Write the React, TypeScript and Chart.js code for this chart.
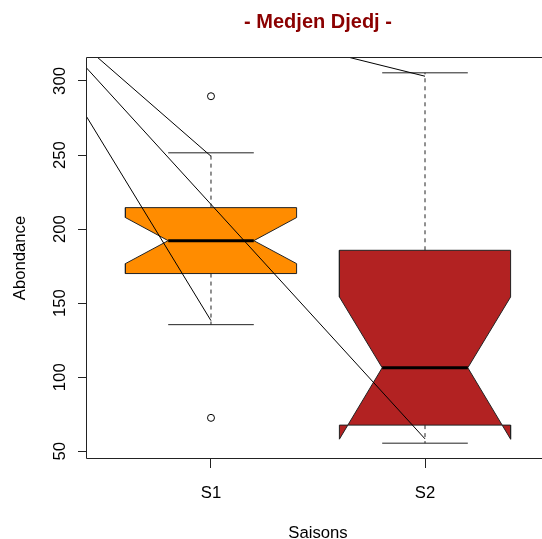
import React, { useEffect, useRef } from 'react';
import { Chart, registerables } from 'chart.js';

Chart.register(...registerables);

// ---- data ----
const categories = ['S1', 'S2'];
const whiskerLow = [135.5, 55.5];
const q1 = [170.0, 67.7];
const medians = [192.2, 106.4];
const q3 = [214.5, 185.7];
const whiskerHigh = [251.5, 305.5];
const notchLow = [176.7, 58.2];
const notchHigh = [207.8, 154.2];
const outliers: number[][] = [[289.7, 72.6], []];
const boxColors = ['#FF8C00', '#B22222'];

const xTicks = [1, 2];
const yTicks = [50, 100, 150, 200, 250, 300];

// straight lines radiating from one point
const rayOriginX = 0;
const rayOriginY = 375;
const rayEndX = [1, 1, 2, 2];
const rayEndY = [249.2, 138.2, 303.2, 58.4];

const titleText = '- Medjen Djedj -';
const xTitle = 'Saisons';
const yTitle = 'Abondance';

// ---- layout / style ----
const X_MIN = 0.4206;
const X_MAX = 2.5467;
const Y_MIN = 45.5;
const Y_MAX = 315.5;
const BOX_HALF = 0.4;
const NOTCH_HALF = 0.2;
const CAP_HALF = 0.2;
const FONT = '"Liberation Sans", Arial, Helvetica, sans-serif';

function buildDatasets() {
  const ds: any[] = [];
  categories.forEach((_, i) => {
    const x = i + 1;
    // notched box polygon
    ds.push({
      data: [
        { x: x - BOX_HALF, y: q1[i] },
        { x: x + BOX_HALF, y: q1[i] },
        { x: x + BOX_HALF, y: notchLow[i] },
        { x: x + NOTCH_HALF, y: medians[i] },
        { x: x + BOX_HALF, y: notchHigh[i] },
        { x: x + BOX_HALF, y: q3[i] },
        { x: x - BOX_HALF, y: q3[i] },
        { x: x - BOX_HALF, y: notchHigh[i] },
        { x: x - NOTCH_HALF, y: medians[i] },
        { x: x - BOX_HALF, y: notchLow[i] },
        { x: x - BOX_HALF, y: q1[i] },
      ],
      borderColor: '#222',
      borderWidth: 1,
      backgroundColor: boxColors[i],
      fill: 'shape',
      pointRadius: 0,
      order: 6,
    });
    // median
    ds.push({
      data: [
        { x: x - NOTCH_HALF, y: medians[i] },
        { x: x + NOTCH_HALF, y: medians[i] },
      ],
      borderColor: '#000',
      borderWidth: 3,
      borderCapStyle: 'butt',
      pointRadius: 0,
      fill: false,
      order: 5,
    });
    // whiskers
    ds.push({
      data: [
        { x, y: q3[i] },
        { x, y: whiskerHigh[i] },
      ],
      borderColor: '#222',
      borderWidth: 1,
      borderDash: [4, 4],
      pointRadius: 0,
      fill: false,
      order: 4,
    });
    ds.push({
      data: [
        { x, y: q1[i] },
        { x, y: whiskerLow[i] },
      ],
      borderColor: '#222',
      borderWidth: 1,
      borderDash: [4, 4],
      pointRadius: 0,
      fill: false,
      order: 4,
    });
    // caps
    ds.push({
      data: [
        { x: x - CAP_HALF, y: whiskerHigh[i] },
        { x: x + CAP_HALF, y: whiskerHigh[i] },
      ],
      borderColor: '#222',
      borderWidth: 1,
      pointRadius: 0,
      fill: false,
      order: 3,
    });
    ds.push({
      data: [
        { x: x - CAP_HALF, y: whiskerLow[i] },
        { x: x + CAP_HALF, y: whiskerLow[i] },
      ],
      borderColor: '#222',
      borderWidth: 1,
      pointRadius: 0,
      fill: false,
      order: 3,
    });
    // outliers
    if (outliers[i].length) {
      ds.push({
        data: outliers[i].map((v) => ({ x, y: v })),
        showLine: false,
        pointRadius: 3.5,
        pointBorderColor: '#000',
        pointBackgroundColor: 'rgba(0,0,0,0)',
        pointBorderWidth: 1,
        fill: false,
        order: 2,
      });
    }
  });
  rayEndX.forEach((ex, j) => {
    ds.push({
      data: [
        { x: rayOriginX, y: rayOriginY },
        { x: ex, y: rayEndY[j] },
      ],
      borderColor: '#000',
      borderWidth: 1,
      pointRadius: 0,
      fill: false,
      order: 1,
    });
  });
  return ds;
}

const frameAndText = {
  id: 'frameAndText',
  afterDraw(chart: any) {
    const { ctx, chartArea } = chart;
    const xs = chart.scales.x;
    const ys = chart.scales.y;
    ctx.save();
    // plot frame
    ctx.strokeStyle = '#222';
    ctx.lineWidth = 1;
    const l = Math.round(chartArea.left) - 0.5;
    const t = Math.round(chartArea.top) - 0.5;
    const b = Math.round(chartArea.bottom) + 0.5;
    const r = xs.getPixelForValue(2.58);
    ctx.beginPath();
    ctx.moveTo(r, t);
    ctx.lineTo(l, t);
    ctx.lineTo(l, b);
    ctx.lineTo(r, b);
    ctx.stroke();

    // title
    ctx.fillStyle = '#8B0000';
    ctx.font = `bold 20px ${FONT}`;
    ctx.textAlign = 'center';
    ctx.textBaseline = 'alphabetic';
    ctx.fillText(titleText, xs.getPixelForValue(1.5), 27.5);

    // x tick labels
    ctx.fillStyle = '#000';
    ctx.font = `16.7px ${FONT}`;
    xs.ticks.forEach((tk: any) => {
      ctx.fillText(categories[tk.value - 1], xs.getPixelForValue(tk.value), 498);
    });
    // x title
    ctx.fillText(xTitle, xs.getPixelForValue(1.5), 538);

    // y tick labels (rotated)
    ys.ticks.forEach((tk: any) => {
      ctx.save();
      ctx.translate(64.5, ys.getPixelForValue(tk.value));
      ctx.rotate(-Math.PI / 2);
      ctx.fillText(String(tk.value), 0, 0);
      ctx.restore();
    });
    // y title
    ctx.save();
    ctx.translate(25, (chartArea.top + chartArea.bottom) / 2);
    ctx.rotate(-Math.PI / 2);
    ctx.fillText(yTitle, 0, 0);
    ctx.restore();
    ctx.restore();
  },
};

export default function App() {
  const ref = useRef<HTMLCanvasElement | null>(null);
  useEffect(() => {
    if (!ref.current) return;
    const chart = new Chart(ref.current, {
      type: 'line',
      data: { datasets: buildDatasets() },
      options: {
        responsive: false,
        animation: false,
        devicePixelRatio: 1,
        layout: { autoPadding: false, padding: { top: 58, left: 0, right: 0, bottom: 0 } },
        plugins: {
          legend: { display: false },
          tooltip: { enabled: false },
          title: { display: false },
        },
        elements: { line: { tension: 0 } },
        scales: {
          x: {
            type: 'linear',
            min: X_MIN,
            max: X_MAX,
            afterBuildTicks: (s: any) => {
              s.ticks = xTicks.map((v) => ({ value: v }));
            },
            afterFit: (s: any) => {
              s.height = 81;
            },
            ticks: { display: false },
            grid: {
              drawOnChartArea: false,
              drawTicks: true,
              tickLength: 10,
              tickColor: '#222',
              tickWidth: 1,
            },
            border: { display: false },
          },
          y: {
            type: 'linear',
            min: Y_MIN,
            max: Y_MAX,
            afterBuildTicks: (s: any) => {
              s.ticks = yTicks.map((v) => ({ value: v }));
            },
            afterFit: (s: any) => {
              s.width = 87;
            },
            ticks: { display: false },
            grid: {
              drawOnChartArea: false,
              drawTicks: true,
              tickLength: 9,
              tickColor: '#222',
              tickWidth: 1,
            },
            border: { display: false },
          },
        },
      } as any,
      plugins: [frameAndText],
    });
    return () => chart.destroy();
  }, []);
  return (
    <div style={{ position: 'fixed', left: 0, top: 0, width: 542, height: 539, background: '#fff' }}>
      <canvas ref={ref} width={542} height={539} style={{ width: 542, height: 539 }} />
    </div>
  );
}
